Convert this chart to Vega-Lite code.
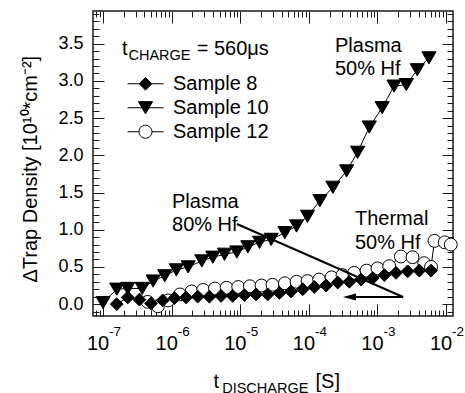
{
  "$schema": "https://vega.github.io/schema/vega-lite/v6.json",
  "width": 360,
  "height": 305,
  "autosize": {"type": "none"},
  "padding": {"left": 93, "top": 11, "right": 12, "bottom": 77},
  "config": {
    "font": "Liberation Sans",
    "view": {"stroke": "#1a1a1a", "strokeWidth": 1.5},
    "axis": {"grid": false, "domain": false, "labelColor": "black", "tickColor": "#1a1a1a", "tickWidth": 1, "titleColor": "black", "titleFontWeight": "normal", "labelFont": "Liberation Sans", "titleFont": "Liberation Sans", "labelFlush": false, "labelOverlap": false}
  },
  "data": {"values": [
    {"series": "Sample 12", "t": 4.47e-7, "d": 0.03},
    {"series": "Sample 12", "t": 6.31e-7, "d": -0.03},
    {"series": "Sample 12", "t": 8.91e-7, "d": 0.05},
    {"series": "Sample 12", "t": 1.32e-6, "d": 0.13},
    {"series": "Sample 12", "t": 1.95e-6, "d": 0.17},
    {"series": "Sample 12", "t": 2.88e-6, "d": 0.19},
    {"series": "Sample 12", "t": 4.27e-6, "d": 0.21},
    {"series": "Sample 12", "t": 6.31e-6, "d": 0.22},
    {"series": "Sample 12", "t": 9.33e-6, "d": 0.23},
    {"series": "Sample 12", "t": 1.38e-5, "d": 0.24},
    {"series": "Sample 12", "t": 2.04e-5, "d": 0.25},
    {"series": "Sample 12", "t": 2.95e-5, "d": 0.26},
    {"series": "Sample 12", "t": 4.47e-5, "d": 0.28},
    {"series": "Sample 12", "t": 6.61e-5, "d": 0.30},
    {"series": "Sample 12", "t": 9.55e-5, "d": 0.31},
    {"series": "Sample 12", "t": 1.41e-4, "d": 0.33},
    {"series": "Sample 12", "t": 2.14e-4, "d": 0.36},
    {"series": "Sample 12", "t": 3.09e-4, "d": 0.39},
    {"series": "Sample 12", "t": 4.57e-4, "d": 0.42},
    {"series": "Sample 12", "t": 6.92e-4, "d": 0.45},
    {"series": "Sample 12", "t": 1.0e-3, "d": 0.48},
    {"series": "Sample 12", "t": 1.48e-3, "d": 0.51},
    {"series": "Sample 12", "t": 2.19e-3, "d": 0.64},
    {"series": "Sample 12", "t": 3.24e-3, "d": 0.63},
    {"series": "Sample 12", "t": 4.79e-3, "d": 0.55},
    {"series": "Sample 12", "t": 6.03e-3, "d": 0.50},
    {"series": "Sample 12", "t": 6.76e-3, "d": 0.85},
    {"series": "Sample 12", "t": 9.55e-3, "d": 0.83},
    {"series": "Sample 12", "t": 1.17e-2, "d": 0.80},
    {"series": "Sample 8", "t": 1.585e-7, "d": 0.00},
    {"series": "Sample 8", "t": 2.29e-7, "d": 0.09},
    {"series": "Sample 8", "t": 3.39e-7, "d": 0.06},
    {"series": "Sample 8", "t": 5.01e-7, "d": 0.01},
    {"series": "Sample 8", "t": 7.41e-7, "d": 0.05},
    {"series": "Sample 8", "t": 1.10e-6, "d": 0.08},
    {"series": "Sample 8", "t": 1.62e-6, "d": 0.09},
    {"series": "Sample 8", "t": 2.40e-6, "d": 0.10},
    {"series": "Sample 8", "t": 3.55e-6, "d": 0.10},
    {"series": "Sample 8", "t": 5.25e-6, "d": 0.11},
    {"series": "Sample 8", "t": 7.76e-6, "d": 0.11},
    {"series": "Sample 8", "t": 1.15e-5, "d": 0.12},
    {"series": "Sample 8", "t": 1.70e-5, "d": 0.13},
    {"series": "Sample 8", "t": 2.51e-5, "d": 0.13},
    {"series": "Sample 8", "t": 3.72e-5, "d": 0.15},
    {"series": "Sample 8", "t": 5.50e-5, "d": 0.17},
    {"series": "Sample 8", "t": 8.13e-5, "d": 0.20},
    {"series": "Sample 8", "t": 1.20e-4, "d": 0.23},
    {"series": "Sample 8", "t": 1.78e-4, "d": 0.25},
    {"series": "Sample 8", "t": 2.63e-4, "d": 0.29},
    {"series": "Sample 8", "t": 3.89e-4, "d": 0.30},
    {"series": "Sample 8", "t": 5.75e-4, "d": 0.33},
    {"series": "Sample 8", "t": 8.51e-4, "d": 0.35},
    {"series": "Sample 8", "t": 1.26e-3, "d": 0.39},
    {"series": "Sample 8", "t": 1.86e-3, "d": 0.42},
    {"series": "Sample 8", "t": 2.75e-3, "d": 0.44},
    {"series": "Sample 8", "t": 4.07e-3, "d": 0.45},
    {"series": "Sample 8", "t": 6.03e-3, "d": 0.45},
    {"series": "Sample 10", "t": 1.0e-7, "d": 0.02},
    {"series": "Sample 10", "t": 1.585e-7, "d": 0.20},
    {"series": "Sample 10", "t": 2.29e-7, "d": 0.21},
    {"series": "Sample 10", "t": 3.72e-7, "d": 0.21},
    {"series": "Sample 10", "t": 5.37e-7, "d": 0.31},
    {"series": "Sample 10", "t": 7.94e-7, "d": 0.38},
    {"series": "Sample 10", "t": 1.17e-6, "d": 0.46},
    {"series": "Sample 10", "t": 1.74e-6, "d": 0.50},
    {"series": "Sample 10", "t": 2.75e-6, "d": 0.58},
    {"series": "Sample 10", "t": 3.98e-6, "d": 0.63},
    {"series": "Sample 10", "t": 5.89e-6, "d": 0.67},
    {"series": "Sample 10", "t": 8.91e-6, "d": 0.70},
    {"series": "Sample 10", "t": 1.29e-5, "d": 0.77},
    {"series": "Sample 10", "t": 1.91e-5, "d": 0.83},
    {"series": "Sample 10", "t": 2.82e-5, "d": 0.87},
    {"series": "Sample 10", "t": 4.47e-5, "d": 0.96},
    {"series": "Sample 10", "t": 6.61e-5, "d": 1.05},
    {"series": "Sample 10", "t": 9.55e-5, "d": 1.18},
    {"series": "Sample 10", "t": 1.45e-4, "d": 1.39},
    {"series": "Sample 10", "t": 2.24e-4, "d": 1.57},
    {"series": "Sample 10", "t": 3.55e-4, "d": 1.79},
    {"series": "Sample 10", "t": 5.13e-4, "d": 2.04},
    {"series": "Sample 10", "t": 7.59e-4, "d": 2.38},
    {"series": "Sample 10", "t": 1.17e-3, "d": 2.64},
    {"series": "Sample 10", "t": 1.74e-3, "d": 2.93},
    {"series": "Sample 10", "t": 2.63e-3, "d": 2.95},
    {"series": "Sample 10", "t": 3.80e-3, "d": 3.15},
    {"series": "Sample 10", "t": 5.62e-3, "d": 3.31}
  ]},
  "resolve": {"axis": {"x": "independent", "y": "independent"}},
  "layer": [
    {
      "mark": {"type": "line", "color": "black", "strokeWidth": 1},
      "encoding": {
        "x": {"field": "t", "type": "quantitative", "scale": {"type": "log", "domain": [7.14e-8, 0.0126], "nice": false},
          "axis": {"orient": "bottom", "values": [1e-7, 1e-6, 1e-5, 1e-4, 1e-3, 1e-2], "labelExpr": "'10'", "ticks": false, "tickSize": 0, "labelPadding": 17.5, "labelFontSize": 20, "labelOffset": -5.5, "labelAlign": "center",
            "title": "t", "titleFontSize": 20, "titleX": 120, "titleY": 71.5, "titleAlign": "left", "titleBaseline": "alphabetic"}},
        "y": {"field": "d", "type": "quantitative", "scale": {"domain": [-0.16, 3.94], "nice": false, "zero": false},
          "axis": {"orient": "left", "values": [0, 0.5, 1, 1.5, 2, 2.5, 3, 3.5], "format": ".1f", "ticks": false, "tickSize": 0, "labelPadding": 10, "labelFontSize": 18,
            "title": "ΔTrap Density [10¹⁰*cm⁻²]", "titleFontSize": 20, "titleAngle": 270, "titleX": -56.3, "titleY": 271, "titleAlign": "left", "titleBaseline": "alphabetic"}},
        "detail": {"field": "series"}
      }
    },
    {
      "mark": {"type": "point", "filled": true, "stroke": "black", "strokeWidth": 1, "opacity": 1},
      "encoding": {
        "x": {"field": "t", "type": "quantitative", "scale": {"type": "log", "domain": [7.14e-8, 0.0126], "nice": false},
          "axis": {"orient": "bottom", "values": [1e-7, 1e-6, 1e-5, 1e-4, 1e-3, 1e-2], "labelExpr": "'' + round(log(datum.value) / LN10)", "ticks": false, "tickSize": 0, "labelPadding": 8, "labelFontSize": 13.5, "labelAlign": "left", "labelOffset": 5.5,
            "title": "DISCHARGE", "titleFontSize": 14.5, "titleX": 128.7, "titleY": 76.5, "titleAlign": "left", "titleBaseline": "alphabetic"}},
        "y": {"field": "d", "type": "quantitative", "scale": {"domain": [-0.16, 3.94], "nice": false, "zero": false},
          "axis": {"orient": "left", "values": [0, 0.5, 1, 1.5, 2, 2.5, 3, 3.5], "labels": false, "tickSize": -11, "title": null}},
        "shape": {"condition": [
          {"test": "datum.series === 'Sample 8'", "value": "diamond"},
          {"test": "datum.series === 'Sample 10'", "value": "triangle-down"}], "value": "circle"},
        "fill": {"condition": {"test": "datum.series === 'Sample 12'", "value": "white"}, "value": "black"},
        "size": {"condition": {"test": "datum.series === 'Sample 10'", "value": 200}, "value": 165}
      }
    },
    {
      "data": {"values": []},
      "mark": {"type": "point", "filled": true, "strokeWidth": 1, "opacity": 1},
      "encoding": {
        "x": {"field": "t", "type": "quantitative", "scale": {"type": "log", "domain": [7.14e-8, 0.0126], "nice": false}, "axis": null},
        "y": {"field": "d", "type": "quantitative", "scale": {"domain": [-0.16, 3.94], "nice": false, "zero": false}, "axis": null},
        "shape": {"field": "series", "type": "nominal",
          "scale": {"domain": ["Sample 8", "Sample 10", "Sample 12"], "range": [
            "M-1,0H1M-0.35,0L0,-0.35L0.35,0L0,0.35Z",
            "M-1,0H1M-0.39,-0.34L0.39,-0.34L0,0.34Z",
            "M-1,0H-0.36M0.36,0H1M0.36,0A0.36,0.36,0,1,1,-0.36,0A0.36,0.36,0,1,1,0.36,0Z"]},
          "legend": {"title": null, "orient": "none", "legendX": 34, "legendY": 61, "padding": 0, "symbolSize": 1296, "clipHeight": 23.5, "rowPadding": 0, "labelFontSize": 20, "labelOffset": 9, "labelColor": "black", "labelFont": "Liberation Sans", "symbolStrokeWidth": 1}},
        "fill": {"field": "series", "type": "nominal",
          "scale": {"domain": ["Sample 8", "Sample 10", "Sample 12"], "range": ["black", "black", "white"]}},
        "stroke": {"field": "series", "type": "nominal",
          "scale": {"domain": ["Sample 8", "Sample 10", "Sample 12"], "range": ["black", "black", "black"]}}
      }
    },
    {
      "data": {"values": [{"t": 8.95e-6, "d": 1.077, "t2": 2.36e-3, "d2": 0.095}]},
      "mark": {"type": "rule", "color": "black", "strokeWidth": 2},
      "encoding": {
        "x": {"field": "t", "type": "quantitative", "scale": {"type": "log", "domain": [7.14e-8, 0.0126], "nice": false},
          "axis": {"orient": "bottom", "values": [1e-7, 1e-6, 1e-5, 1e-4, 1e-3, 1e-2], "labels": false, "tickSize": -12,
            "title": "[S]", "titleFontSize": 20, "titleX": 222, "titleY": 71.5, "titleAlign": "left", "titleBaseline": "alphabetic"}},
        "x2": {"field": "t2"},
        "y": {"field": "d", "type": "quantitative", "scale": {"domain": [-0.16, 3.94], "nice": false, "zero": false},
          "axis": {"orient": "left", "values": [-0.1, 0.1, 0.2, 0.3, 0.4, 0.6, 0.7, 0.8, 0.9, 1.1, 1.2, 1.3, 1.4, 1.6, 1.7, 1.8, 1.9, 2.1, 2.2, 2.3, 2.4, 2.6, 2.7, 2.8, 2.9, 3.1, 3.2, 3.3, 3.4, 3.6, 3.7, 3.8, 3.9], "labels": false, "tickSize": -6, "title": null}},
        "y2": {"field": "d2"}
      }
    },
    {
      "data": {"values": [{"t": 2.36e-3, "t2": 3.6e-4, "d": 0.095}]},
      "mark": {"type": "rule", "color": "black", "strokeWidth": 2},
      "encoding": {
        "x": {"field": "t", "type": "quantitative", "scale": {"type": "log", "domain": [7.14e-8, 0.0126], "nice": false},
          "axis": {"orient": "bottom", "values": [8e-8, 9e-8, 2e-7, 3e-7, 4e-7, 5e-7, 6e-7, 7e-7, 8e-7, 9e-7, 2e-6, 3e-6, 4e-6, 5e-6, 6e-6, 7e-6, 8e-6, 9e-6, 2e-5, 3e-5, 4e-5, 5e-5, 6e-5, 7e-5, 8e-5, 9e-5, 2e-4, 3e-4, 4e-4, 5e-4, 6e-4, 7e-4, 8e-4, 9e-4, 2e-3, 3e-3, 4e-3, 5e-3, 6e-3, 7e-3, 8e-3, 9e-3], "labels": false, "tickSize": -6, "title": null}},
        "x2": {"field": "t2"},
        "y": {"field": "d", "type": "quantitative", "scale": {"domain": [-0.16, 3.94], "nice": false, "zero": false},
          "axis": {"orient": "right", "values": [0, 0.5, 1, 1.5, 2, 2.5, 3, 3.5], "labels": false, "tickSize": -11, "title": null}}
      }
    },
    {
      "data": {"values": [{"t": 3.14e-4, "d": 0.095}]},
      "mark": {"type": "point", "filled": true, "color": "black", "opacity": 1, "size": 169, "shape": "M0,0L2,-0.55L2,0.55Z"},
      "encoding": {
        "x": {"field": "t", "type": "quantitative", "scale": {"type": "log", "domain": [7.14e-8, 0.0126], "nice": false},
          "axis": {"orient": "top", "values": [1e-7, 1e-6, 1e-5, 1e-4, 1e-3, 1e-2], "labels": false, "tickSize": -12, "title": null}},
        "y": {"field": "d", "type": "quantitative", "scale": {"domain": [-0.16, 3.94], "nice": false, "zero": false},
          "axis": {"orient": "right", "values": [-0.1, 0.1, 0.2, 0.3, 0.4, 0.6, 0.7, 0.8, 0.9, 1.1, 1.2, 1.3, 1.4, 1.6, 1.7, 1.8, 1.9, 2.1, 2.2, 2.3, 2.4, 2.6, 2.7, 2.8, 2.9, 3.1, 3.2, 3.3, 3.4, 3.6, 3.7, 3.8, 3.9], "labels": false, "tickSize": -6, "title": null}}
      }
    },
    {
      "data": {"values": [
        {"t": 2.40e-4, "d": 3.389, "label": "Plasma\n50% Hf"},
        {"t": 1.012e-6, "d": 1.292, "label": "Plasma\n80% Hf"},
        {"t": 4.70e-4, "d": 1.063, "label": "Thermal\n50% Hf"},
        {"t": 1.892e-7, "d": 3.349, "label": "t"},
        {"t": 2.32e-6, "d": 3.349, "label": "= 560μs"}
      ]},
      "mark": {"type": "text", "align": "left", "baseline": "alphabetic", "fontSize": 20, "lineBreak": "\n", "lineHeight": 23.5, "color": "black", "font": "Liberation Sans"},
      "encoding": {
        "x": {"field": "t", "type": "quantitative", "scale": {"type": "log", "domain": [7.14e-8, 0.0126], "nice": false},
          "axis": {"orient": "top", "values": [8e-8, 9e-8, 2e-7, 3e-7, 4e-7, 5e-7, 6e-7, 7e-7, 8e-7, 9e-7, 2e-6, 3e-6, 4e-6, 5e-6, 6e-6, 7e-6, 8e-6, 9e-6, 2e-5, 3e-5, 4e-5, 5e-5, 6e-5, 7e-5, 8e-5, 9e-5, 2e-4, 3e-4, 4e-4, 5e-4, 6e-4, 7e-4, 8e-4, 9e-4, 2e-3, 3e-3, 4e-3, 5e-3, 6e-3, 7e-3, 8e-3, 9e-3], "labels": false, "tickSize": -6, "title": null}},
        "y": {"field": "d", "type": "quantitative", "scale": {"domain": [-0.16, 3.94], "nice": false, "zero": false}, "axis": null},
        "text": {"field": "label"}
      }
    },
    {
      "data": {"values": [{"t": 2.35e-7, "d": 3.288, "label": "CHARGE"}]},
      "mark": {"type": "text", "align": "left", "baseline": "alphabetic", "fontSize": 14.5, "color": "black", "font": "Liberation Sans"},
      "encoding": {
        "x": {"field": "t", "type": "quantitative", "scale": {"type": "log", "domain": [7.14e-8, 0.0126], "nice": false}, "axis": null},
        "y": {"field": "d", "type": "quantitative", "scale": {"domain": [-0.16, 3.94], "nice": false, "zero": false}, "axis": null},
        "text": {"field": "label"}
      }
    }
  ]
}
